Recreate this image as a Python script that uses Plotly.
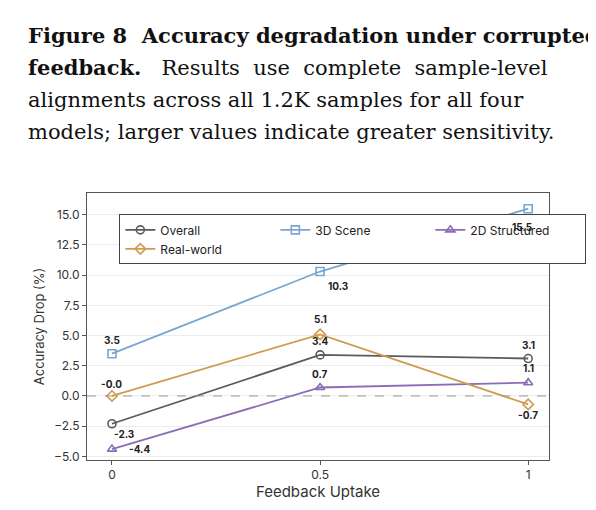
import plotly.graph_objects as go

uptake = [0, 0.5, 1]
overall = [-2.3, 3.4, 3.1]
scene3d = [3.5, 10.3, 15.5]
struct2d = [-4.4, 0.7, 1.1]
realworld = [-0.0, 5.1, -0.7]

series = [
    ("Overall", overall, "#5a5a5a", "circle-open", [(12, 10), (0, -14), (0, -14)]),
    ("3D Scene", scene3d, "#7aa6d0", "square-open", [(16, 14), (18, 14), (-6, 18)]),
    ("2D Structured", struct2d, "#8a6db5", "triangle-up-open", [(28, 0), (0, -14), (0, -15)]),
    ("Real-world", realworld, "#cf9b4e", "diamond-open", [(0, -12), (0, -15), (0, 11)]),
]
series[1][4][0] = (0, -14)
legend_order = ["Overall", "3D Scene", "2D Structured", "Real-world"]

fig = go.Figure()
annos = []
for name in legend_order:
    _, vals, color, sym, offs = next(s for s in series if s[0] == name)
    fig.add_trace(go.Scatter(
        x=uptake, y=vals, mode="lines+markers", name=name,
        line=dict(color=color, width=1.8),
        marker=dict(symbol=sym, size=8, color=color, line=dict(width=1.6, color=color)),
    ))
    for xv, yv, (dx, dy) in zip(uptake, vals, offs):
        annos.append(dict(x=xv, y=yv, text="<b>%.1f</b>" % yv, showarrow=False, xshift=dx, yshift=-dy,
                          font=dict(family="Inter", size=10, color="#222"), xref="x", yref="y"))

title_lines = [
    ("<b>Figure 8  Accuracy degradation under corrupted</b>", 28),
    ("<b>feedback.</b>   Results  use  complete  sample-level", 60),
    ("alignments across all 1.2K samples for all four", 92),
    ("models; larger values indicate greater sensitivity.", 124),
]
for t, py in title_lines:
    annos.append(dict(x=(18 - 79) / (541 - 79), y=(510 - py - 58) / (452 - 185),
                      xref="paper", yref="paper", text=t, showarrow=False,
                      xanchor="left", yanchor="middle",
                      font=dict(family="DejaVu Serif", size=21, color="#111")))

fig.add_hline(y=0, line=dict(color="#999", width=1, dash="dash"))

fig.update_layout(
    width=596, height=510, margin=dict(l=79, r=55, t=185, b=58),
    paper_bgcolor="white", plot_bgcolor="white",
    font=dict(family="Inter", size=12, color="#333"),
    annotations=annos,
    legend=dict(x=0.07, y=0.92, xanchor="left", yanchor="top", orientation="h",
                entrywidth=110, bordercolor="#444", borderwidth=1, bgcolor="white",
                font=dict(size=12, color="#222")),
    xaxis=dict(range=[-0.06, 1.05], tickvals=uptake, ticktext=["0", "0.5", "1"],
               title=dict(text="Feedback Uptake", font=dict(size=15), standoff=4),
               showgrid=False, showline=True, mirror=True, linecolor="#555", ticks="outside",
               ticklen=4, tickcolor="#555", zeroline=False),
    yaxis=dict(range=[-5.3, 16.8], dtick=2.5, tickformat=".1f",
               title=dict(text="Accuracy Drop (%)", font=dict(size=13), standoff=6),
               showgrid=True, gridcolor="#ececec", showline=True, mirror=True, linecolor="#555",
               ticks="outside", ticklen=4, tickcolor="#555", zeroline=False),
)
fig.write_html("out.html")
